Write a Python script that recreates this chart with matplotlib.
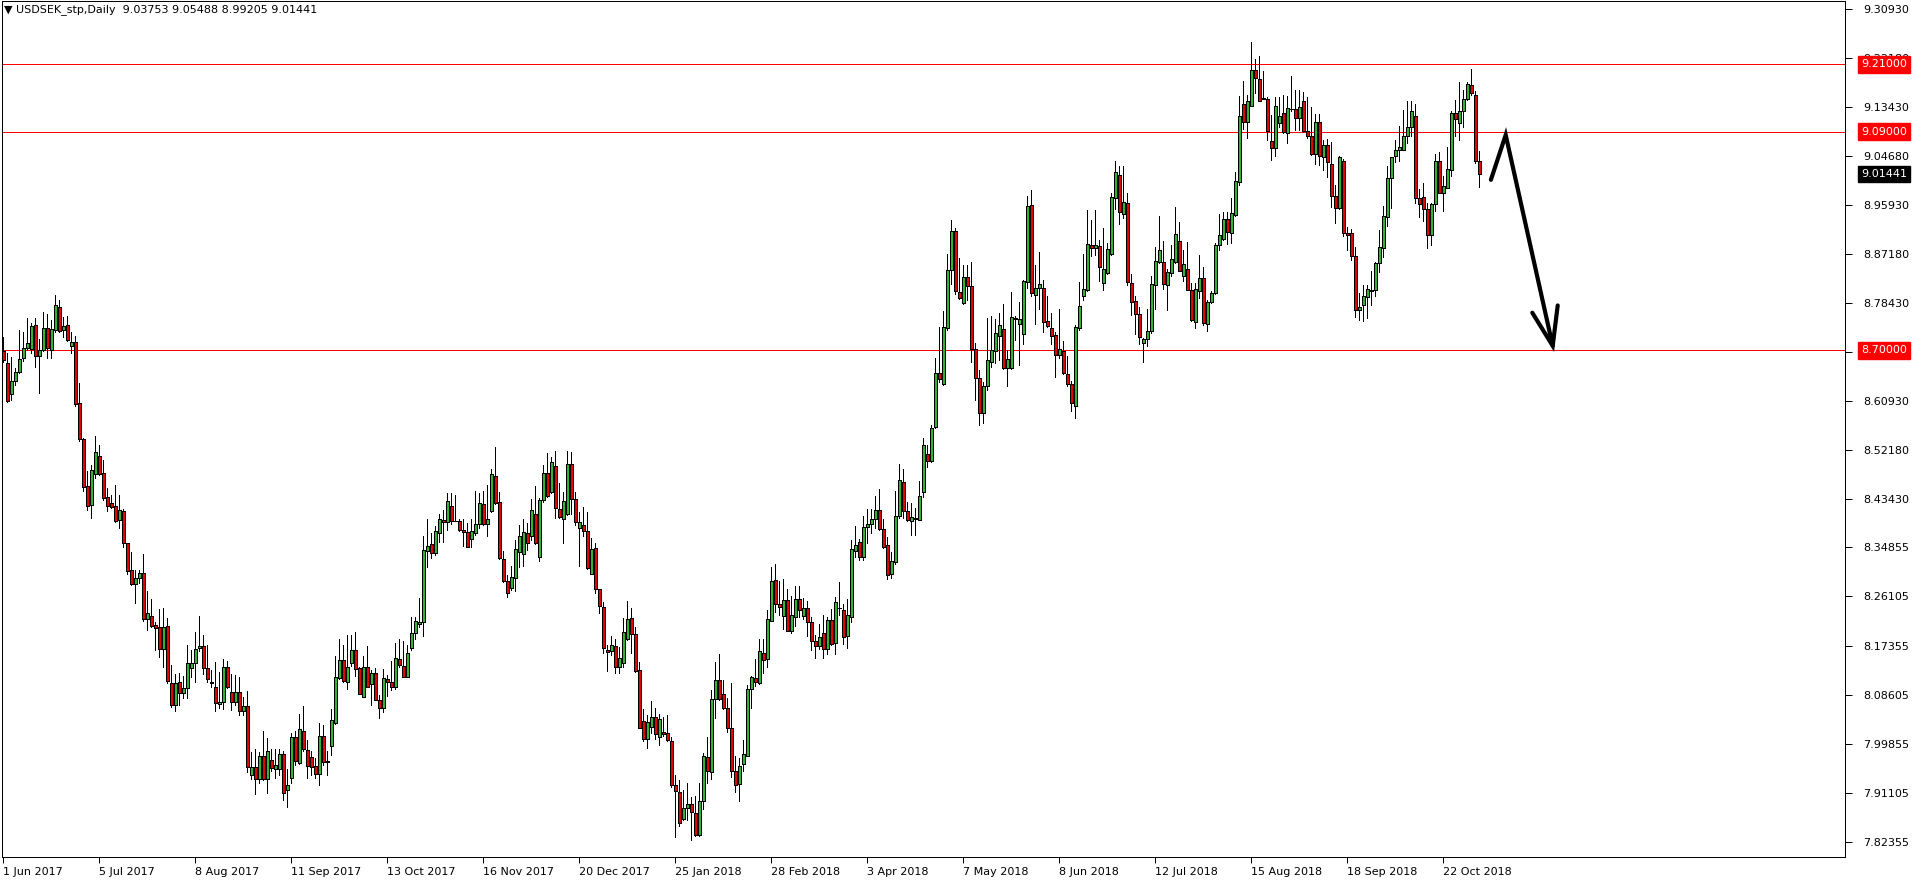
import numpy as np
import pandas as pd
import matplotlib
matplotlib.use("Agg")
import matplotlib.pyplot as plt
from matplotlib.transforms import blended_transform_factory, offset_copy

# daily USDSEK candles, 1 Jun 2017 .. 5 Nov 2018
opens = [
    8.698, 8.677, 8.622, 8.646, 8.662, 8.686, 8.705, 8.702, 8.745, 8.689,
    8.701, 8.739, 8.700, 8.736, 8.778, 8.736, 8.745, 8.707, 8.714, 8.606,
    8.542, 8.458, 8.424, 8.479, 8.511, 8.481, 8.438, 8.427, 8.423, 8.397,
    8.414, 8.356, 8.308, 8.283, 8.294, 8.303, 8.220, 8.227, 8.210, 8.206,
    8.168, 8.208, 8.106, 8.067, 8.108, 8.089, 8.098, 8.134, 8.142, 8.169,
    8.173, 8.133, 8.109, 8.099, 8.069, 8.072, 8.135, 8.090, 8.072, 8.090,
    8.057, 8.065, 7.942, 7.957, 7.935, 7.976, 7.935, 7.969, 7.953, 7.953,
    7.980, 7.916, 7.937, 8.010, 7.964, 8.021, 7.987, 7.974, 7.958, 7.944,
    8.012, 7.968, 7.995, 8.035, 8.116, 8.147, 8.109, 8.143, 8.165, 8.134,
    8.081, 8.135, 8.105, 8.124, 8.077, 8.062, 8.114, 8.109, 8.099, 8.149,
    8.137, 8.117, 8.170, 8.196, 8.212, 8.215, 8.342, 8.354, 8.338, 8.374,
    8.397, 8.393, 8.422, 8.396, 8.396, 8.380, 8.376, 8.363, 8.375, 8.390,
    8.426, 8.390, 8.414, 8.476, 8.430, 8.328, 8.288, 8.277, 8.294, 8.340,
    8.336, 8.375, 8.368, 8.408, 8.331, 8.433, 8.482, 8.448, 8.494, 8.417,
    8.399, 8.408, 8.498, 8.434, 8.384, 8.388, 8.378, 8.302, 8.347, 8.274,
    8.242, 8.166, 8.163, 8.173, 8.135, 8.142, 8.185, 8.222, 8.194, 8.130,
    8.039, 8.007, 8.029, 8.046, 8.011, 8.020, 8.017, 8.004, 7.924, 7.912,
    7.864, 7.884, 7.891, 7.875, 7.835, 7.897, 7.975, 7.948, 8.078, 8.112,
    8.087, 8.063, 8.026, 7.950, 7.926, 7.962, 7.977, 8.096, 8.115, 8.106,
    8.160, 8.149, 8.218, 8.291, 8.247, 8.227, 8.255, 8.199, 8.224, 8.257,
    8.227, 8.240, 8.215, 8.182, 8.172, 8.196, 8.167, 8.219, 8.178, 8.240,
    8.237, 8.190, 8.225, 8.343, 8.358, 8.332, 8.385, 8.390, 8.399, 8.416,
    8.381, 8.353, 8.301, 8.322, 8.404, 8.465, 8.414, 8.395, 8.399, 8.397,
    8.448, 8.515, 8.502, 8.563, 8.659, 8.640, 8.739, 8.844, 8.913, 8.804,
    8.784, 8.830, 8.814, 8.702, 8.650, 8.588, 8.637, 8.680, 8.698, 8.726,
    8.738, 8.668, 8.668, 8.757, 8.747, 8.729, 8.822, 8.959, 8.798, 8.811,
    8.811, 8.753, 8.739, 8.727, 8.691, 8.698, 8.657, 8.640, 8.600, 8.739,
    8.796, 8.807, 8.888, 8.882, 8.886, 8.820, 8.837, 8.871, 8.972, 9.013,
    8.943, 8.962, 8.820, 8.788, 8.765, 8.713, 8.720, 8.734, 8.816, 8.858,
    8.857, 8.816, 8.838, 8.857, 8.895, 8.833, 8.845, 8.808, 8.750, 8.805,
    8.829, 8.747, 8.786, 8.803, 8.888, 8.898, 8.934, 8.909, 8.942, 9.001,
    9.139, 9.107, 9.136, 9.200, 9.184, 9.149, 9.149, 9.073, 9.060, 9.105,
    9.123, 9.087, 9.130, 9.130, 9.114, 9.145, 9.091, 9.083, 9.050, 9.107,
    9.045, 9.066, 9.033, 8.976, 8.953, 9.038, 8.910, 8.909, 8.869, 8.771,
    8.780, 8.795, 8.808, 8.807, 8.855, 8.882, 8.938, 9.007, 9.047, 9.058,
    9.058, 9.083, 9.099, 9.118, 8.971, 8.973, 8.952, 8.905, 8.960, 9.038,
    8.981, 8.990, 9.022, 9.123, 9.105, 9.127, 9.148, 9.173, 9.156, 9.03753,
]
highs = [
    8.724, 8.695, 8.688, 8.668, 8.736, 8.733, 8.757, 8.748, 8.757, 8.721,
    8.769, 8.765, 8.754, 8.799, 8.790, 8.760, 8.761, 8.733, 8.726, 8.641,
    8.543, 8.484, 8.496, 8.547, 8.531, 8.505, 8.454, 8.442, 8.460, 8.442,
    8.417, 8.356, 8.341, 8.309, 8.309, 8.337, 8.270, 8.257, 8.215, 8.239,
    8.240, 8.222, 8.139, 8.122, 8.125, 8.120, 8.175, 8.166, 8.197, 8.226,
    8.192, 8.175, 8.130, 8.145, 8.126, 8.150, 8.146, 8.122, 8.121, 8.118,
    8.082, 8.093, 7.983, 7.989, 7.984, 8.021, 8.008, 7.989, 7.989, 7.989,
    7.985, 7.954, 8.017, 8.021, 8.052, 8.066, 8.005, 7.986, 7.973, 8.036,
    8.031, 7.985, 8.061, 8.155, 8.186, 8.175, 8.192, 8.192, 8.197, 8.136,
    8.155, 8.173, 8.130, 8.133, 8.085, 8.131, 8.121, 8.146, 8.178, 8.185,
    8.182, 8.175, 8.225, 8.225, 8.258, 8.369, 8.400, 8.375, 8.386, 8.408,
    8.415, 8.446, 8.446, 8.442, 8.400, 8.399, 8.392, 8.399, 8.449, 8.446,
    8.449, 8.460, 8.488, 8.528, 8.448, 8.342, 8.300, 8.316, 8.362, 8.389,
    8.400, 8.392, 8.434, 8.458, 8.436, 8.496, 8.516, 8.510, 8.521, 8.463,
    8.448, 8.520, 8.518, 8.448, 8.412, 8.420, 8.411, 8.365, 8.357, 8.275,
    8.252, 8.175, 8.191, 8.185, 8.171, 8.222, 8.253, 8.241, 8.207, 8.145,
    8.061, 8.050, 8.074, 8.063, 8.051, 8.047, 8.049, 8.011, 7.943, 7.934,
    7.916, 7.928, 7.904, 7.906, 7.928, 7.982, 8.011, 8.095, 8.145, 8.159,
    8.112, 8.080, 8.106, 7.976, 7.973, 8.005, 8.104, 8.120, 8.149, 8.185,
    8.185, 8.237, 8.314, 8.319, 8.289, 8.292, 8.274, 8.262, 8.279, 8.279,
    8.258, 8.253, 8.225, 8.193, 8.212, 8.228, 8.225, 8.238, 8.260, 8.287,
    8.248, 8.256, 8.362, 8.387, 8.364, 8.405, 8.417, 8.417, 8.441, 8.453,
    8.399, 8.367, 8.341, 8.449, 8.498, 8.488, 8.429, 8.427, 8.419, 8.467,
    8.543, 8.531, 8.567, 8.686, 8.741, 8.770, 8.872, 8.932, 8.918, 8.864,
    8.853, 8.852, 8.858, 8.713, 8.665, 8.643, 8.757, 8.761, 8.755, 8.767,
    8.783, 8.701, 8.804, 8.761, 8.786, 8.826, 8.976, 8.986, 8.853, 8.875,
    8.826, 8.796, 8.766, 8.733, 8.774, 8.717, 8.690, 8.646, 8.745, 8.821,
    8.872, 8.950, 8.932, 8.950, 8.896, 8.918, 8.891, 8.981, 9.038, 9.029,
    9.029, 8.980, 8.836, 8.796, 8.777, 8.722, 8.773, 8.833, 8.884, 8.940,
    8.895, 8.845, 8.888, 8.956, 8.928, 8.879, 8.894, 8.820, 8.820, 8.870,
    8.848, 8.790, 8.805, 8.891, 8.943, 8.946, 8.946, 8.972, 9.018, 9.154,
    9.180, 9.155, 9.249, 9.219, 9.225, 9.198, 9.152, 9.120, 9.152, 9.152,
    9.155, 9.154, 9.189, 9.164, 9.164, 9.161, 9.152, 9.134, 9.121, 9.121,
    9.075, 9.076, 9.072, 8.995, 9.047, 9.041, 8.919, 8.916, 8.884, 8.802,
    8.817, 8.817, 8.842, 8.858, 8.915, 8.958, 9.029, 9.045, 9.075, 9.100,
    9.129, 9.145, 9.145, 9.139, 8.987, 8.999, 8.962, 8.962, 9.050, 9.053,
    9.011, 9.062, 9.126, 9.146, 9.178, 9.164, 9.178, 9.202, 9.163, 9.05488,
]
lows = [
    8.680, 8.608, 8.612, 8.638, 8.659, 8.681, 8.701, 8.695, 8.671, 8.623,
    8.698, 8.687, 8.686, 8.733, 8.733, 8.724, 8.717, 8.695, 8.600, 8.539,
    8.449, 8.416, 8.401, 8.473, 8.478, 8.433, 8.414, 8.419, 8.394, 8.384,
    8.349, 8.301, 8.282, 8.249, 8.285, 8.217, 8.202, 8.206, 8.165, 8.154,
    8.136, 8.107, 8.064, 8.056, 8.068, 8.080, 8.080, 8.118, 8.109, 8.163,
    8.123, 8.108, 8.099, 8.056, 8.062, 8.060, 8.097, 8.059, 8.067, 8.049,
    8.049, 7.948, 7.936, 7.908, 7.928, 7.934, 7.911, 7.949, 7.937, 7.942,
    7.898, 7.885, 7.928, 7.960, 7.963, 7.986, 7.937, 7.943, 7.937, 7.924,
    7.961, 7.942, 7.979, 8.033, 8.114, 8.108, 8.096, 8.137, 8.120, 8.088,
    8.081, 8.099, 8.068, 8.077, 8.045, 8.055, 8.083, 8.095, 8.096, 8.135,
    8.117, 8.117, 8.166, 8.185, 8.206, 8.190, 8.313, 8.329, 8.335, 8.359,
    8.359, 8.379, 8.390, 8.395, 8.378, 8.351, 8.349, 8.350, 8.371, 8.384,
    8.389, 8.368, 8.412, 8.426, 8.328, 8.287, 8.260, 8.273, 8.270, 8.313,
    8.316, 8.344, 8.361, 8.355, 8.325, 8.430, 8.439, 8.445, 8.401, 8.401,
    8.356, 8.406, 8.408, 8.389, 8.316, 8.368, 8.310, 8.301, 8.267, 8.231,
    8.161, 8.129, 8.156, 8.124, 8.124, 8.135, 8.184, 8.160, 8.126, 8.026,
    8.003, 7.991, 8.017, 8.007, 7.997, 8.013, 8.004, 7.921, 7.832, 7.851,
    7.863, 7.862, 7.826, 7.834, 7.834, 7.882, 7.928, 7.935, 8.044, 8.077,
    8.060, 8.019, 7.940, 7.913, 7.897, 7.949, 7.976, 8.062, 8.101, 8.105,
    8.125, 8.135, 8.218, 8.234, 8.228, 8.203, 8.200, 8.196, 8.209, 8.225,
    8.220, 8.191, 8.165, 8.152, 8.168, 8.152, 8.158, 8.175, 8.158, 8.228,
    8.177, 8.170, 8.215, 8.331, 8.326, 8.326, 8.356, 8.375, 8.383, 8.380,
    8.347, 8.292, 8.294, 8.319, 8.401, 8.401, 8.395, 8.371, 8.370, 8.397,
    8.439, 8.492, 8.501, 8.561, 8.644, 8.638, 8.736, 8.818, 8.800, 8.792,
    8.783, 8.789, 8.679, 8.612, 8.567, 8.570, 8.630, 8.671, 8.677, 8.683,
    8.667, 8.637, 8.667, 8.718, 8.673, 8.711, 8.811, 8.796, 8.747, 8.773,
    8.733, 8.742, 8.711, 8.653, 8.686, 8.658, 8.637, 8.592, 8.579, 8.736,
    8.789, 8.805, 8.868, 8.870, 8.824, 8.807, 8.836, 8.870, 8.952, 8.925,
    8.936, 8.817, 8.763, 8.729, 8.712, 8.680, 8.708, 8.731, 8.773, 8.855,
    8.810, 8.771, 8.832, 8.855, 8.841, 8.824, 8.807, 8.753, 8.740, 8.793,
    8.745, 8.735, 8.784, 8.800, 8.879, 8.896, 8.890, 8.892, 8.940, 8.995,
    9.094, 9.078, 9.135, 9.158, 9.144, 9.148, 9.075, 9.040, 9.047, 9.099,
    9.087, 9.069, 9.126, 9.093, 9.093, 9.090, 9.079, 9.048, 9.032, 9.031,
    9.022, 9.009, 8.956, 8.927, 8.952, 8.903, 8.878, 8.861, 8.760, 8.754,
    8.753, 8.758, 8.781, 8.797, 8.839, 8.867, 8.922, 8.954, 9.036, 9.038,
    9.057, 9.069, 9.082, 8.963, 8.937, 8.931, 8.882, 8.887, 8.949, 8.980,
    8.949, 8.989, 9.010, 9.082, 9.075, 9.098, 9.146, 9.156, 9.034, 8.99205,
]
closes = [
    8.683, 8.610, 8.646, 8.661, 8.684, 8.705, 8.713, 8.743, 8.689, 8.701,
    8.739, 8.705, 8.738, 8.780, 8.735, 8.744, 8.718, 8.714, 8.604, 8.541,
    8.456, 8.422, 8.486, 8.518, 8.480, 8.436, 8.422, 8.421, 8.395, 8.415,
    8.356, 8.306, 8.283, 8.294, 8.303, 8.220, 8.231, 8.209, 8.205, 8.168,
    8.206, 8.110, 8.067, 8.107, 8.089, 8.098, 8.142, 8.142, 8.168, 8.173,
    8.133, 8.113, 8.106, 8.071, 8.072, 8.135, 8.099, 8.072, 8.090, 8.057,
    8.065, 7.957, 7.957, 7.935, 7.976, 7.935, 7.985, 7.955, 7.960, 7.980,
    7.911, 7.925, 8.010, 7.967, 8.024, 7.989, 7.958, 7.957, 7.944, 8.012,
    7.965, 7.965, 8.040, 8.117, 8.147, 8.111, 8.135, 8.165, 8.132, 8.088,
    8.135, 8.100, 8.124, 8.077, 8.062, 8.115, 8.109, 8.099, 8.151, 8.138,
    8.118, 8.160, 8.196, 8.218, 8.216, 8.344, 8.351, 8.338, 8.377, 8.399,
    8.393, 8.431, 8.395, 8.396, 8.379, 8.376, 8.350, 8.378, 8.390, 8.427,
    8.390, 8.399, 8.480, 8.428, 8.329, 8.288, 8.268, 8.295, 8.346, 8.369,
    8.376, 8.356, 8.415, 8.356, 8.433, 8.482, 8.440, 8.500, 8.418, 8.402,
    8.431, 8.498, 8.434, 8.394, 8.393, 8.377, 8.311, 8.346, 8.274, 8.244,
    8.170, 8.162, 8.175, 8.135, 8.151, 8.197, 8.220, 8.195, 8.129, 8.027,
    8.007, 8.037, 8.047, 8.016, 8.042, 8.016, 8.005, 7.924, 7.915, 7.857,
    7.884, 7.891, 7.877, 7.835, 7.897, 7.977, 7.949, 8.078, 8.112, 8.078,
    8.062, 8.026, 7.949, 7.924, 7.959, 7.981, 8.096, 8.117, 8.109, 8.164,
    8.148, 8.221, 8.289, 8.247, 8.243, 8.255, 8.200, 8.228, 8.257, 8.237,
    8.240, 8.215, 8.181, 8.172, 8.188, 8.167, 8.219, 8.177, 8.251, 8.241,
    8.188, 8.228, 8.345, 8.353, 8.332, 8.385, 8.391, 8.399, 8.416, 8.382,
    8.350, 8.299, 8.325, 8.405, 8.469, 8.413, 8.397, 8.403, 8.401, 8.441,
    8.531, 8.503, 8.562, 8.659, 8.649, 8.741, 8.844, 8.913, 8.805, 8.793,
    8.830, 8.814, 8.703, 8.650, 8.588, 8.637, 8.683, 8.700, 8.731, 8.745,
    8.668, 8.684, 8.759, 8.756, 8.755, 8.824, 8.957, 8.803, 8.811, 8.818,
    8.751, 8.744, 8.726, 8.691, 8.703, 8.659, 8.640, 8.606, 8.741, 8.779,
    8.809, 8.889, 8.882, 8.887, 8.849, 8.845, 8.881, 8.973, 9.018, 8.947,
    8.964, 8.822, 8.787, 8.765, 8.724, 8.720, 8.735, 8.818, 8.860, 8.879,
    8.818, 8.839, 8.863, 8.908, 8.842, 8.854, 8.808, 8.754, 8.809, 8.829,
    8.749, 8.786, 8.803, 8.888, 8.905, 8.934, 8.911, 8.944, 9.002, 9.118,
    9.108, 9.145, 9.200, 9.185, 9.145, 9.149, 9.091, 9.060, 9.135, 9.117,
    9.089, 9.132, 9.130, 9.114, 9.134, 9.091, 9.083, 9.050, 9.107, 9.047,
    9.066, 9.036, 8.976, 8.953, 9.044, 8.910, 8.906, 8.869, 8.772, 8.778,
    8.796, 8.809, 8.806, 8.856, 8.884, 8.940, 9.007, 9.044, 9.058, 9.063,
    9.083, 9.099, 9.127, 8.972, 8.960, 8.952, 8.905, 8.960, 9.038, 8.981,
    8.993, 9.023, 9.123, 9.112, 9.126, 9.148, 9.174, 9.158, 9.038, 9.01441,
]

levels = [9.21, 9.09, 8.70]
price_ticks = [9.30930, 9.22180, 9.13430, 9.04680, 8.95930, 8.87180, 8.78430,
               8.69680, 8.60930, 8.52180, 8.43430, 8.34855, 8.26105, 8.17355,
               8.08605, 7.99855, 7.91105, 7.82355]
holidays = ["2017-12-25", "2018-01-01"]
title = "\u25bc USDSEK_stp,Daily  9.03753 9.05488 8.99205 9.01441"

# hand drawn arrow: (bar, price)
arrow_x = [371.9, 375.6, 387.35]
arrow_y = [9.004, 9.084, 8.708]
head_x = [382.25, 387.35, 388.6]
head_y = [8.767, 8.708, 8.780]

O = np.array(opens)
H = np.array(highs)
L = np.array(lows)
C = np.array(closes)
n = len(C)
x = np.arange(n)

dates = pd.bdate_range("2017-06-01", "2018-12-31")
dates = dates[~dates.isin(pd.to_datetime(holidays))][:n]

W, Hh = 1916, 884
left, right, top, bottom = 2, 1845, 1, 857
px = 72 / 100

fig = plt.figure(figsize=(W / 100, Hh / 100), dpi=100)
ax = fig.add_axes([left / W, 1 - bottom / Hh, (right - left) / W, (bottom - top) / Hh])

green = "#2fb52f"
red = "#e60000"
cols = np.where(C > O, green, np.where(C < O, red, "black"))

ax.vlines(x, L, H, color="black", lw=px, antialiased=False, zorder=2)
ax.bar(x, np.maximum(np.abs(C - O), 0.0004), bottom=np.minimum(O, C), width=0.75,
       color=cols, edgecolor="black", linewidth=px, antialiased=False, zorder=3)

for lv in levels:
    ax.axhline(lv, color="red", lw=px, antialiased=False, zorder=1)

ax.plot(arrow_x, arrow_y, color="black", lw=3, solid_capstyle="round",
        solid_joinstyle="miter", zorder=4)
ax.plot(head_x, head_y, color="black", lw=3, solid_capstyle="round",
        solid_joinstyle="miter", zorder=4)

ax.set_xlim((left - 3.3) / 4, (right - 3.3) / 4)
ax.set_ylim(9.21 - (bottom - 64.3) / 560.8, 9.21 + (64.3 - top) / 560.8)

# price scale on the right
ax.yaxis.tick_right()
ax.set_yticks(price_ticks)
ax.set_yticklabels([f"{v:.5f}" for v in price_ticks])
ax.tick_params(axis="y", length=5, width=px, pad=8, labelsize=8, colors="black")

# date labels every 24 bars
ticks = x[::24]
ax.set_xticks(ticks)
ax.set_xticklabels([f"{d.day} {d:%b %Y}" for d in dates[ticks]])
ax.tick_params(axis="x", length=4, width=px, pad=3, labelsize=8)
for lab in ax.get_xticklabels():
    lab.set_horizontalalignment("left")

for sp in ax.spines.values():
    sp.set_linewidth(px)
    sp.set_color("black")

# price boxes sit on top of the scale labels
tr = offset_copy(blended_transform_factory(ax.transAxes, ax.transData),
                 fig=fig, x=16, y=0, units="dots")
box_kw = dict(transform=tr, ha="left", va="center", fontsize=8, color="white",
              zorder=6, clip_on=False)
for lv in levels:
    ax.text(1.0, lv, f"{lv:.5f}", **box_kw,
            bbox=dict(boxstyle="square,pad=0.3", fc="red", ec="red"))
ax.text(1.0, C[-1], f"{C[-1]:.5f}", **box_kw,
        bbox=dict(boxstyle="square,pad=0.3", fc="black", ec="black"))

fig.text(4 / W, 1 - 10 / Hh, title, ha="left", va="center", fontsize=8)

fig.savefig("out.png", dpi=100)
